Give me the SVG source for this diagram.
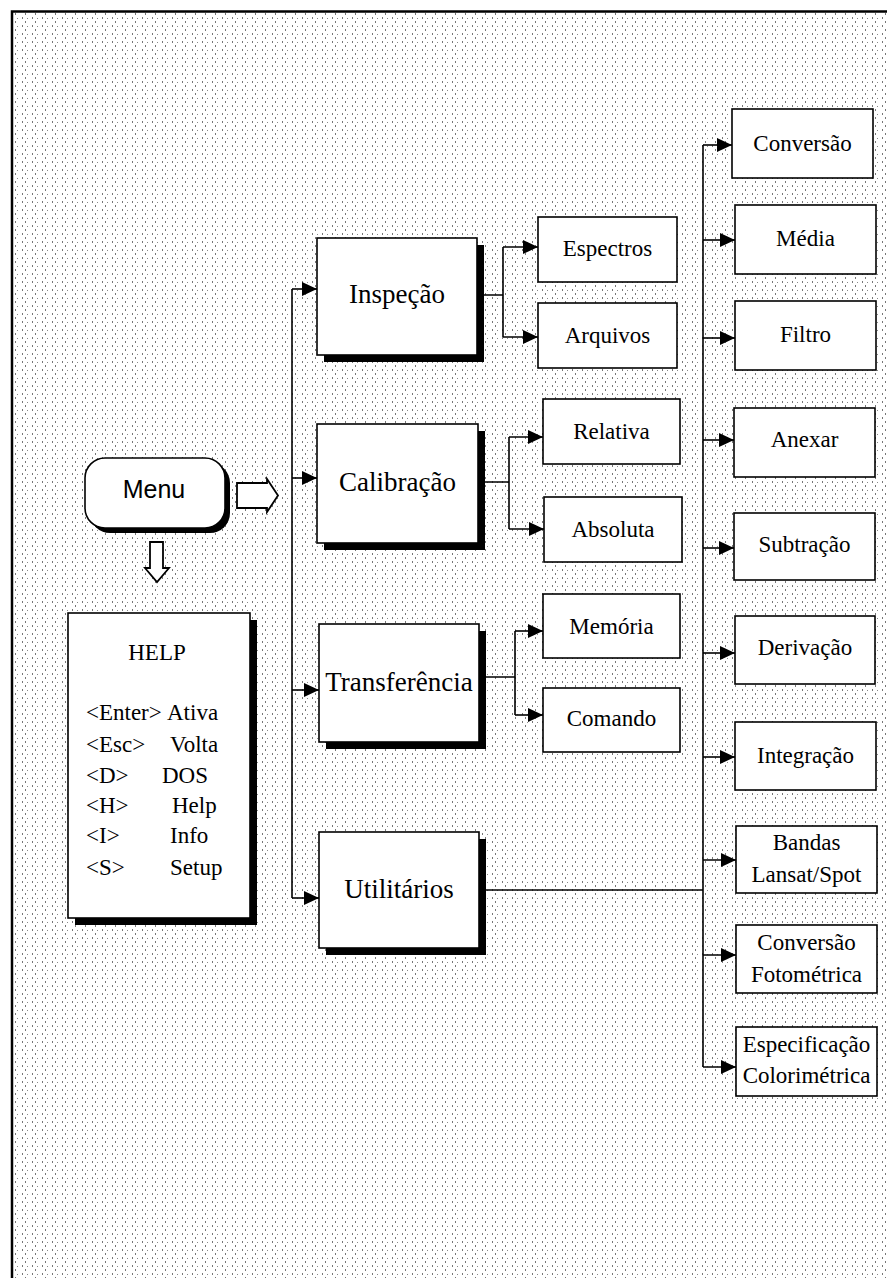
<svg xmlns="http://www.w3.org/2000/svg" width="887" height="1278" viewBox="0 0 887 1278">
<defs>
<pattern id="dots" width="10" height="8" patternUnits="userSpaceOnUse">
<rect x="2" y="1" width="1" height="2" fill="#777"/>
<rect x="7" y="2" width="1" height="1" fill="#888"/>
<rect x="5" y="5" width="1" height="2" fill="#777"/>
</pattern>
<marker id="ah" markerWidth="15" markerHeight="14" refX="15" refY="7" orient="auto" markerUnits="userSpaceOnUse">
<path d="M0,0 L15,7 L0,14 z" fill="#000"/>
</marker>
</defs>
<style>
.box{fill:#fff;stroke:#000;stroke-width:1.6}
.shadow{fill:#000}
.t{font-family:"Liberation Serif","Times New Roman",serif;fill:#000;text-anchor:middle}
.ts{font-family:"Liberation Serif","Times New Roman",serif;fill:#000;font-size:23px}
.big{font-size:27px}
.small{font-size:23px}
.conn{fill:none;stroke:#000;stroke-width:1.6}
.arr{fill:none;stroke:#000;stroke-width:1.6;marker-end:url(#ah)}
.hollow{fill:#fff;stroke:#000;stroke-width:1.8;stroke-linejoin:miter}
</style>
<rect x="0" y="0" width="887" height="1278" fill="#fff"/>
<rect x="13" y="13" width="874" height="1265" fill="url(#dots)"/>
<path d="M12,1278 V11.5 H887" fill="none" stroke="#000" stroke-width="2.5"/>

<g id="connectors">
<path class="conn" d="M292,289 V898"/>
<path class="arr" d="M292,289 H317"/>
<path class="arr" d="M292,478 H317"/>
<path class="arr" d="M292,690 H319"/>
<path class="arr" d="M292,898 H319"/>
<path class="conn" d="M484,295 H503 M503,247 V337"/>
<path class="arr" d="M503,247 H538"/>
<path class="arr" d="M503,337 H538"/>
<path class="conn" d="M485,482 H509 M509,437 V529"/>
<path class="arr" d="M509,437 H543"/>
<path class="arr" d="M509,529 H544"/>
<path class="conn" d="M486,677 H515 M515,631 V715"/>
<path class="arr" d="M515,631 H543"/>
<path class="arr" d="M515,715 H543"/>
<path class="conn" d="M486,890 H703"/>
<path class="conn" d="M703,145 V1067"/>
<path class="arr" d="M703,145 H732"/>
<path class="arr" d="M703,240 H735"/>
<path class="arr" d="M703,338 H735"/>
<path class="arr" d="M703,440 H734"/>
<path class="arr" d="M703,548 H734"/>
<path class="arr" d="M703,653 H735"/>
<path class="arr" d="M703,757 H735"/>
<path class="arr" d="M703,860 H736"/>
<path class="arr" d="M703,955 H736"/>
<path class="arr" d="M703,1067 H736"/>
<polygon class="hollow" points="237,483 267,483 267,479 278,495.5 267,512 267,508 237,508"/>
<polygon class="hollow" points="150,542 163,542 163,568 169,568 157,582 145,568 150,568"/>
</g>

<g id="menu">
<rect x="90" y="463" width="140" height="70" rx="20" class="shadow"/>
<rect x="85" y="458" width="140" height="70" rx="20" class="box"/>
<text x="154" y="498" font-family="Liberation Sans, Arial, sans-serif" font-size="25" text-anchor="middle">Menu</text>
</g>

<g id="help">
<rect x="75" y="620" width="182" height="305" class="shadow"/>
<rect x="68" y="613" width="182" height="305" class="box"/>
<text class="t small" x="157" y="660">HELP</text>
<text class="ts" x="86" y="720">&lt;Enter&gt;</text><text class="ts" x="167" y="720">Ativa</text>
<text class="ts" x="86" y="752">&lt;Esc&gt;</text><text class="ts" x="170" y="752">Volta</text>
<text class="ts" x="86" y="783">&lt;D&gt;</text><text class="ts" x="162" y="783">DOS</text>
<text class="ts" x="86" y="813">&lt;H&gt;</text><text class="ts" x="172" y="813">Help</text>
<text class="ts" x="86" y="843">&lt;I&gt;</text><text class="ts" x="170" y="843">Info</text>
<text class="ts" x="86" y="875">&lt;S&gt;</text><text class="ts" x="170" y="875">Setup</text>
</g>

<g id="inspecao">
<rect x="324" y="245" width="160" height="117" class="shadow"/>
<rect x="317" y="238" width="160" height="117" class="box"/>
<text class="t big" x="397" y="303">Inspeção</text>
</g>
<g id="calibracao">
<rect x="324" y="431" width="161" height="119" class="shadow"/>
<rect x="317" y="424" width="161" height="119" class="box"/>
<text class="t big" x="397.5" y="491">Calibração</text>
</g>
<g id="transferencia">
<rect x="326" y="631" width="160" height="118" class="shadow"/>
<rect x="319" y="624" width="160" height="118" class="box"/>
<text class="t big" x="399" y="691">Transferência</text>
</g>
<g id="utilitarios">
<rect x="326" y="839" width="160" height="116" class="shadow"/>
<rect x="319" y="832" width="160" height="116" class="box"/>
<text class="t big" x="399" y="898">Utilitários</text>
</g>

<g id="espectros"><rect x="538" y="217" width="139" height="65" class="box"/><text class="t small" x="607.5" y="256">Espectros</text></g>
<g id="arquivos"><rect x="538" y="303" width="139" height="65" class="box"/><text class="t small" x="607.5" y="343">Arquivos</text></g>
<g id="relativa"><rect x="543" y="399" width="137" height="65" class="box"/><text class="t small" x="611.5" y="439">Relativa</text></g>
<g id="absoluta"><rect x="544" y="497" width="138" height="65" class="box"/><text class="t small" x="613" y="537">Absoluta</text></g>
<g id="memoria"><rect x="543" y="594" width="137" height="64" class="box"/><text class="t small" x="611.5" y="634">Memória</text></g>
<g id="comando"><rect x="543" y="688" width="137" height="64" class="box"/><text class="t small" x="611.5" y="726">Comando</text></g>

<g id="conversao"><rect x="732" y="109" width="141" height="69" class="box"/><text class="t small" x="802.5" y="151">Conversão</text></g>
<g id="media"><rect x="735" y="205" width="141" height="69" class="box"/><text class="t small" x="805.5" y="246">Média</text></g>
<g id="filtro"><rect x="735" y="301" width="141" height="69" class="box"/><text class="t small" x="805.5" y="342">Filtro</text></g>
<g id="anexar"><rect x="734" y="408" width="141" height="69" class="box"/><text class="t small" x="804.5" y="447">Anexar</text></g>
<g id="subtracao"><rect x="734" y="513" width="141" height="67" class="box"/><text class="t small" x="804.5" y="552">Subtração</text></g>
<g id="derivacao"><rect x="735" y="616" width="140" height="68" class="box"/><text class="t small" x="805" y="655">Derivação</text></g>
<g id="integracao"><rect x="735" y="722" width="141" height="68" class="box"/><text class="t small" x="805.5" y="763">Integração</text></g>
<g id="bandas"><rect x="736" y="826" width="141" height="67" class="box"/><text class="t small" x="806.5" y="850">Bandas</text><text class="t small" x="806.5" y="882">Lansat/Spot</text></g>
<g id="conversao-fotometrica"><rect x="736" y="925" width="141" height="68" class="box"/><text class="t small" x="806.5" y="950">Conversão</text><text class="t small" x="806.5" y="982">Fotométrica</text></g>
<g id="especificacao-colorimetrica"><rect x="736" y="1027" width="141" height="69" class="box"/><text class="t small" x="806.5" y="1052">Especificação</text><text class="t small" x="806.5" y="1083">Colorimétrica</text></g>
</svg>
